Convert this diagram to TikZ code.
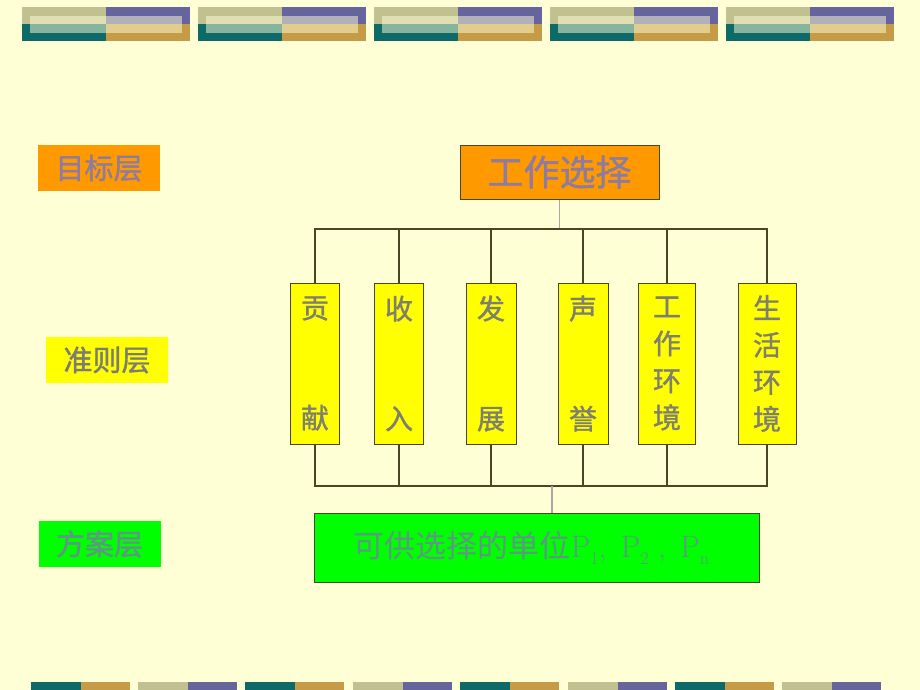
\documentclass[tikz,border=0pt]{standalone}
\usepackage{fontspec}
\newfontfamily\cjk[FakeBold=1.2]{Noto Sans CJK SC}
\newfontfamily\cjkthin{Noto Sans CJK SC}
\usetikzlibrary{backgrounds}
\definecolor{bgyellow}{HTML}{FFFFD6}
\definecolor{khaki}{HTML}{C0C090}
\definecolor{purp}{HTML}{66649C}
\definecolor{deepteal}{HTML}{0D6A68}
\definecolor{ochre}{HTML}{C59B48}
\definecolor{orng}{HTML}{FF9900}
\definecolor{yel}{HTML}{FFFF00}
\definecolor{grn}{HTML}{00FF00}
\definecolor{edge}{HTML}{4B4526}
\definecolor{txtpurple}{HTML}{8E7BA2}
\definecolor{txtgray}{HTML}{7F7F6F}
\definecolor{txtgreen}{HTML}{5F9685}
\newcommand{\buscolor}{edge}
\newcommand{\stubcolor}{gray!70}
\newcommand{\lw}{1.2pt}
\newcommand{\psub}[1]{\raisebox{-7pt}{\fontsize{18}{18}\selectfont #1}}
\tikzset{
  layer/.style={inner sep=0pt, minimum width=122pt, minimum height=46pt, font=\cjk\fontsize{29}{29}\selectfont},
  crit/.style={draw=edge, line width=1pt, fill=yel, inner sep=0pt, minimum height=161pt, align=center, text=txtgray, font=\cjk\fontsize{28}{37}\selectfont}
}

\begin{document}
\begin{tikzpicture}[x=1pt,y=-1pt]
\fill[bgyellow] (0,0) rectangle (920,690);
\useasboundingbox (0,0) rectangle (920,690);
%top bars
\fill[khaki] (22,7) rectangle (106,24);
\fill[purp] (106,7) rectangle (190,24);
\fill[deepteal] (22,24) rectangle (106,41);
\fill[ochre] (106,24) rectangle (190,41);
\fill[bgyellow, fill opacity=0.5] (30,16) rectangle (182,33);
\fill[khaki] (198,7) rectangle (282,24);
\fill[purp] (282,7) rectangle (366,24);
\fill[deepteal] (198,24) rectangle (282,41);
\fill[ochre] (282,24) rectangle (366,41);
\fill[bgyellow, fill opacity=0.5] (206,16) rectangle (358,33);
\fill[khaki] (374,7) rectangle (458,24);
\fill[purp] (458,7) rectangle (542,24);
\fill[deepteal] (374,24) rectangle (458,41);
\fill[ochre] (458,24) rectangle (542,41);
\fill[bgyellow, fill opacity=0.5] (382,16) rectangle (534,33);
\fill[khaki] (550,7) rectangle (634,24);
\fill[purp] (634,7) rectangle (718,24);
\fill[deepteal] (550,24) rectangle (634,41);
\fill[ochre] (634,24) rectangle (718,41);
\fill[bgyellow, fill opacity=0.5] (558,16) rectangle (710,33);
\fill[khaki] (726,7) rectangle (810,24);
\fill[purp] (810,7) rectangle (894,24);
\fill[deepteal] (726,24) rectangle (810,41);
\fill[ochre] (810,24) rectangle (894,41);
\fill[bgyellow, fill opacity=0.5] (734,16) rectangle (886,33);
%bottom bars
\fill[deepteal] (31,682) rectangle (80.5,690);
\fill[ochre] (80.5,682) rectangle (130,690);
\fill[khaki] (138,682) rectangle (187.5,690);
\fill[purp] (187.5,682) rectangle (237,690);
\fill[deepteal] (245,682) rectangle (294.5,690);
\fill[ochre] (294.5,682) rectangle (344,690);
\fill[khaki] (353,682) rectangle (402.5,690);
\fill[purp] (402.5,682) rectangle (452,690);
\fill[deepteal] (460,682) rectangle (509.5,690);
\fill[ochre] (509.5,682) rectangle (559,690);
\fill[khaki] (568,682) rectangle (617.5,690);
\fill[purp] (617.5,682) rectangle (667,690);
\fill[deepteal] (675,682) rectangle (724.5,690);
\fill[ochre] (724.5,682) rectangle (774,690);
\fill[khaki] (782,682) rectangle (831.5,690);
\fill[purp] (831.5,682) rectangle (881,690);
%layers
\node[layer, fill=orng, text=txtpurple] (l1) at (99,168) {目标层};
\node[layer, fill=yel, text=txtgray!90!purp] (l2) at (107,360) {准则层};
\node[layer, fill=grn, text=txtgreen] (l3) at (99.5,544) {方案层};
%goal
\node[draw=edge, line width=1pt, fill=orng, minimum width=199pt, minimum height=54pt, text=txtpurple, font=\cjk\fontsize{36}{36}\selectfont] (0) at (559.5,172) {工作选择};
%criteria
\node[crit, minimum width=49pt] (1) at (315,363.5) {贡\\[73pt]献};
\node[crit, minimum width=49pt] (2) at (399,363.5) {收\\[73pt]入};
\node[crit, minimum width=50pt] (3) at (491,363.5) {发\\[73pt]展};
\node[crit, minimum width=50pt] (4) at (583,363.5) {声\\[73pt]誉};
\node[crit, minimum width=57pt] (5) at (667,363.5) {工\\作\\环\\境};
\node[crit, minimum width=58pt] (6) at (767,363.5) {生\\活\\环\\境};
%alternatives
\node[draw=edge, line width=1pt, fill=grn, minimum width=445pt, minimum height=69pt, text=txtgreen, font=\fontsize{31}{31}\selectfont] (7) at (536.5,547.5) {\hspace*{-10pt}{\cjkthin 可供选择的单位}P\psub{1}, \,P\psub{2} , \,P\psub{n}};
%bus 1
\coordinate (t) at (559.5,229);
\draw[\stubcolor, line width=\lw] (0) -- (t);
\draw[\buscolor, line width=\lw] (1) |- (t);
\draw[\buscolor, line width=\lw] (2) |- (t);
\draw[\buscolor, line width=\lw] (3) |- (t);
\draw[\buscolor, line width=\lw] (4) |- (t);
\draw[\buscolor, line width=\lw] (5) |- (t);
\draw[\buscolor, line width=\lw] (6) |- (t);
%bus 2
\coordinate (b) at (552,486);
\draw[\buscolor, line width=\lw] (1) |- (b);
\draw[\buscolor, line width=\lw] (2) |- (b);
\draw[\buscolor, line width=\lw] (3) |- (b);
\draw[\buscolor, line width=\lw] (4) |- (b);
\draw[\buscolor, line width=\lw] (5) |- (b);
\draw[\buscolor, line width=\lw] (6) |- (b);
\draw[\stubcolor, line width=\lw] (b) -- (b |- 7.north);
\end{tikzpicture}
\end{document}
